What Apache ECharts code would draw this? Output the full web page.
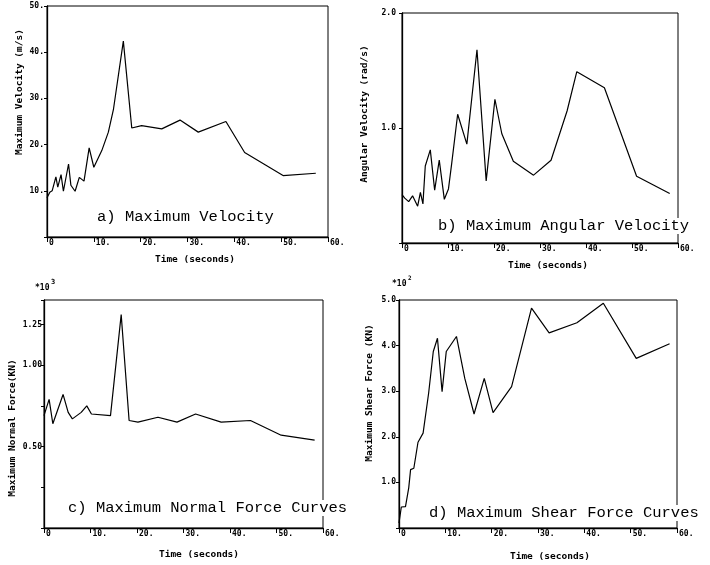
<!DOCTYPE html>
<html>
<head>
<meta charset="utf-8">
<script src="https://cdn.jsdelivr.net/npm/echarts@6/dist/echarts.min.js"></script>
<style>
html,body{margin:0;padding:0;background:#fff;}
#chart{width:710px;height:565px;}
</style>
</head>
<body>
<div id="chart"></div>
<script>
// ---- Data ----
var xTicks = [0, 10, 20, 30, 40, 50, 60];

var timeA = [0, 0.6, 1.1, 1.9, 2.3, 3.0, 3.5, 4.6, 5.1, 6.0, 6.9, 7.9, 9.0, 10.0, 11.7, 13.1, 14.2, 16.3, 18.1, 20.2, 24.5, 28.4, 32.3, 38.2, 42.2, 50.4, 57.4];
var velA  = [8.5, 9.7, 10.0, 13.0, 10.8, 13.5, 9.9, 15.8, 11.2, 9.9, 12.9, 12.1, 19.3, 15.1, 18.7, 22.7, 27.7, 42.4, 23.6, 24.1, 23.4, 25.3, 22.7, 25.0, 18.3, 13.3, 13.8];

var timeB = [0, 0.6, 1.45, 2.3, 3.4, 4.0, 4.55, 5.06, 6.15, 7.1, 8.1, 9.2, 10.1, 10.8, 12.1, 14.1, 16.3, 18.3, 20.2, 21.7, 24.2, 28.6, 32.4, 35.9, 38.0, 44.0, 51.0, 58.2];
var angB  = [0.42, 0.39, 0.36, 0.41, 0.32, 0.44, 0.34, 0.67, 0.81, 0.46, 0.72, 0.38, 0.47, 0.69, 1.12, 0.86, 1.68, 0.54, 1.25, 0.95, 0.71, 0.59, 0.72, 1.15, 1.49, 1.35, 0.58, 0.43];

var timeC = [0, 1.1, 1.9, 4.1, 5.2, 6.1, 8.0, 9.2, 10.2, 14.3, 16.6, 18.3, 20.2, 24.5, 28.6, 32.6, 38.1, 44.4, 51.0, 58.2];
var normC = [0.69, 0.79, 0.64, 0.82, 0.71, 0.67, 0.71, 0.75, 0.70, 0.69, 1.31, 0.66, 0.65, 0.68, 0.65, 0.70, 0.65, 0.66, 0.57, 0.54];

var timeD  = [0, 0.5, 1.4, 2.1, 2.5, 3.2, 4.1, 5.2, 6.4, 7.4, 8.3, 9.3, 10.2, 12.4, 14.2, 16.2, 18.4, 20.3, 24.3, 28.6, 32.4, 38.4, 44.1, 51.2, 58.4];
var shearD = [0.11, 0.46, 0.47, 0.88, 1.28, 1.31, 1.88, 2.08, 2.96, 3.87, 4.16, 2.99, 3.87, 4.2, 3.28, 2.5, 3.28, 2.53, 3.1, 4.82, 4.28, 4.5, 4.93, 3.72, 4.04];

var yLabelsA = [10, 20, 30, 40, 50];
var yLabelsB = [1.0, 2.0];
var yLabelsC = [0.50, 1.00, 1.25];
var yLabelsD = [1.0, 2.0, 3.0, 4.0, 5.0];

var titles = ['a) Maximum Velocity', 'b) Maximum Angular Velocity', 'c) Maximum Normal Force Curves', 'd) Maximum Shear Force Curves'];
var yNames = ['Maximum Velocity (m/s)', 'Angular Velocity (rad/s)', 'Maximum Normal Force(KN)', 'Maximum Shear Force (KN)'];
var xName = 'Time (seconds)';

// ---- Build ----
function pairs(t, v){ return t.map(function(x,i){ return [x, v[i]]; }); }
var mono = '"DejaVu Sans Mono", "Liberation Mono", monospace';
var tickFont = {fontFamily: mono, fontSize: 8, fontWeight: 'bold', color: '#000'};

var grids = [
  {left: 47,  top: 6,   width: 281, height: 231},
  {left: 402, top: 13,  width: 276, height: 230},
  {left: 44,  top: 300, width: 279, height: 228},
  {left: 399, top: 300, width: 278, height: 228}
];
grids.forEach(function(g){ g.show = true; g.borderColor = '#000'; g.borderWidth = 1; g.backgroundColor = 'transparent'; });

function xAxisFor(i){
  return {
    type: 'value', gridIndex: i, min: 0, max: 60, interval: 10,
    axisLine: {show: true, lineStyle: {color: '#000', width: 1.3}},
    axisTick: {show: true, inside: false, length: 5, lineStyle: {color: '#000'}},
    splitLine: {show: false},
    axisLabel: Object.assign({}, tickFont, {
      margin: 2, align: 'left', padding: [0,0,0,2],
      formatter: function(v){ return xTicks.indexOf(v) < 0 ? '' : (v === 0 ? '0' : v + '.'); }
    })
  };
}
function yAxisFor(i, max, interval, labels, fmt, margin){
  return {
    type: 'value', gridIndex: i, min: 0, max: max, interval: interval,
    axisLine: {show: true, lineStyle: {color: '#000', width: 1.3}},
    axisTick: {show: true, length: 3, lineStyle: {color: '#000'}},
    splitLine: {show: false},
    axisLabel: Object.assign({}, tickFont, {
      margin: margin, showMaxLabel: true,
      formatter: function(v){
        for (var k = 0; k < labels.length; k++) if (Math.abs(labels[k] - v) < 1e-6) return fmt(v);
        return '';
      }
    })
  };
}

var series = [
  {data: pairs(timeA, velA)},
  {data: pairs(timeB, angB)},
  {data: pairs(timeC, normC)},
  {data: pairs(timeD, shearD)}
].map(function(s, i){
  return {type: 'line', xAxisIndex: i, yAxisIndex: i, data: s.data, symbol: 'none',
    lineStyle: {color: '#000', width: 1.2}, clip: false};
});

var titlePos = [[97, 218], [438, 227], [68, 509], [429, 514]];
var xNamePos = [[195, 260], [548, 266], [199, 555], [550, 557]];
var yNamePos = [[20, 92], [365, 114], [13, 428], [370, 393]];

var graphics = [];
titles.forEach(function(t, i){
  graphics.push({type: 'text', left: titlePos[i][0], top: titlePos[i][1] - 9, z: 10,
    style: {text: t, fill: '#000', font: '15.5px "Liberation Mono", monospace', backgroundColor: '#fff'}});
});
xNamePos.forEach(function(p){
  graphics.push({type: 'text', x: p[0], y: p[1], z: 10,
    style: {text: xName, fill: '#000', font: 'bold 9.5px ' + mono, align: 'center', verticalAlign: 'middle'}});
});
yNames.forEach(function(t, i){
  graphics.push({type: 'text', x: yNamePos[i][0], y: yNamePos[i][1], rotation: Math.PI/2, z: 10,
    style: {text: t, fill: '#000', font: 'bold 9.5px ' + mono, align: 'center', verticalAlign: 'middle'}});
});
graphics.push({type: 'text', x: 35, y: 284, style: {text: '*10', fill: '#000', font: 'bold 8px ' + mono}});
graphics.push({type: 'text', x: 51, y: 279, style: {text: '3', fill: '#000', font: 'bold 7px ' + mono}});
graphics.push({type: 'text', x: 392, y: 280, style: {text: '*10', fill: '#000', font: 'bold 8px ' + mono}});
graphics.push({type: 'text', x: 408, y: 275, style: {text: '2', fill: '#000', font: 'bold 6px ' + mono}});

var option = {
  animation: false,
  backgroundColor: '#fff',
  grid: grids,
  xAxis: [0,1,2,3].map(xAxisFor),
  yAxis: [
    yAxisFor(0, 50, 10, yLabelsA, function(v){ return v + '.'; }, 3),
    yAxisFor(1, 2, 1, yLabelsB, function(v){ return v.toFixed(1); }, 6),
    yAxisFor(2, 1.4, 0.25, yLabelsC, function(v){ return v.toFixed(2); }, 2),
    yAxisFor(3, 5, 1, yLabelsD, function(v){ return v.toFixed(1); }, 3)
  ],
  series: series,
  graphic: graphics
};

var chart = echarts.init(document.getElementById('chart'), null, {renderer: 'canvas'});
chart.setOption(option);
</script>
</body>
</html>
